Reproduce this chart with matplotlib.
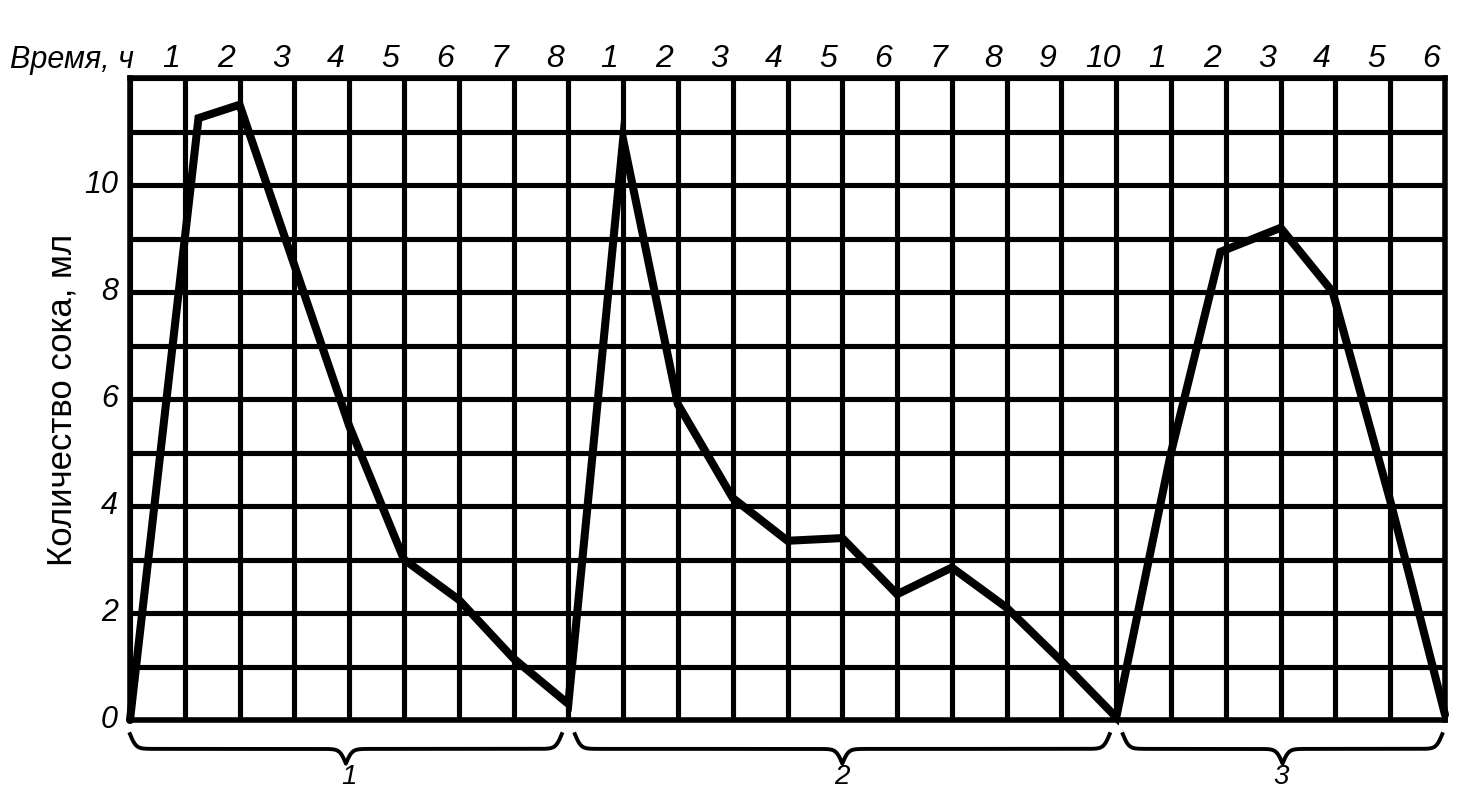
import numpy as np
import matplotlib
matplotlib.use('Agg')
import matplotlib.pyplot as plt
from matplotlib.transforms import blended_transform_factory

plt.rcParams['font.family'] = ['Liberation Sans', 'DejaVu Sans']

# ---- data ----
section_hours = [8, 10, 6]          # hours in each experiment section
section_names = ['1', '2', '3']
time_h = [0, 1.25, 2, 3, 4, 5, 6, 7, 8,
          9, 10, 11, 12, 13, 14, 15, 16, 17, 18,
          19, 19.9, 21, 21.95, 23, 24]
juice_ml = [0.0, 11.25, 11.5, 8.5, 5.5, 3.0, 2.25, 1.15, 0.3,
            10.85, 5.9, 4.15, 3.35, 3.4, 2.35, 2.85, 2.1, 1.1, 0.05,
            5.0, 8.75, 9.2, 8.0, 4.1, 0.1]
y_ticks = [0, 2, 4, 6, 8, 10]
y_max = 12
x_label = 'Время, ч'
y_label = 'Количество сока, мл'

W, H = 1476, 789
fig = plt.figure(figsize=(W / 100, H / 100), dpi=100)
fig.patch.set_facecolor('white')

left, right, top, bottom = 130, 1445, 78, 720
ax = fig.add_axes([left / W, 1 - bottom / H, (right - left) / W, (bottom - top) / H])

total_h = sum(section_hours)
ax.set_xlim(0, total_h)
ax.set_ylim(0, y_max)
ax.set_xticks(np.arange(0, total_h + 1))
ax.set_yticks(np.arange(0, y_max + 1))
ax.grid(True, color='black', lw=3.7)
ax.set_axisbelow(True)
ax.tick_params(length=0, labelbottom=False, labelleft=False)
for sp in ax.spines.values():
    sp.set_linewidth(4.0)
    sp.set_color('black')

# data line
ax.plot(time_h, juice_ml, color='black', lw=5.8, solid_joinstyle='miter',
        solid_capstyle='round', clip_on=False, zorder=5)

# y tick labels
ytr = blended_transform_factory(ax.transAxes, ax.transData)
for v in y_ticks:
    ax.text(-0.009, v, str(v), transform=ytr, ha='right', va='center',
            fontsize=22, style='italic')

# top hour labels
xtr = blended_transform_factory(ax.transData, ax.transAxes)
start = 0
for n in section_hours:
    for i in range(1, n + 1):
        ax.text(start + i - 0.25, 1.03, str(i), transform=xtr, ha='center',
                va='center', fontsize=23, style='italic')
    start += n

fig.text(10 / W, 1 - 60 / H, x_label, ha='left', va='center', fontsize=22,
         style='italic')
fig.text(62 / W, 1 - 400 / H, y_label, rotation=90, ha='center', va='center',
         fontsize=25)

# curly braces below each section
def brace(x0, x1, top_y=-0.022, scale=0.046, beta=18.0):
    x = np.linspace(x0, x1, 801)
    mid = (x0 + x1) / 2
    xh = x[x <= mid]
    yh = 1 / (1 + np.exp(-beta * (xh - x0))) + 1 / (1 + np.exp(-beta * (xh - mid)))
    yfull = np.concatenate([yh, yh[::-1]])
    xfull = np.concatenate([xh, (x0 + x1) - xh[::-1]])
    y = top_y - (yfull - 0.5) * scale
    ax.plot(xfull, y, transform=xtr, color='black', lw=2.8, clip_on=False)

start = 0
for n, name in zip(section_hours, section_names):
    b0 = start + (0.0 if start == 0 else 0.12)
    b1 = start + n - (0.05 if start + n == total_h else 0.12)
    brace(b0, b1)
    fig.text((left + (start + n / 2) * (right - left) / total_h) / W, 5 / H, name,
             ha='center', va='baseline', fontsize=20, style='italic')
    start += n

fig.savefig('out.png', dpi=100, facecolor='white')
